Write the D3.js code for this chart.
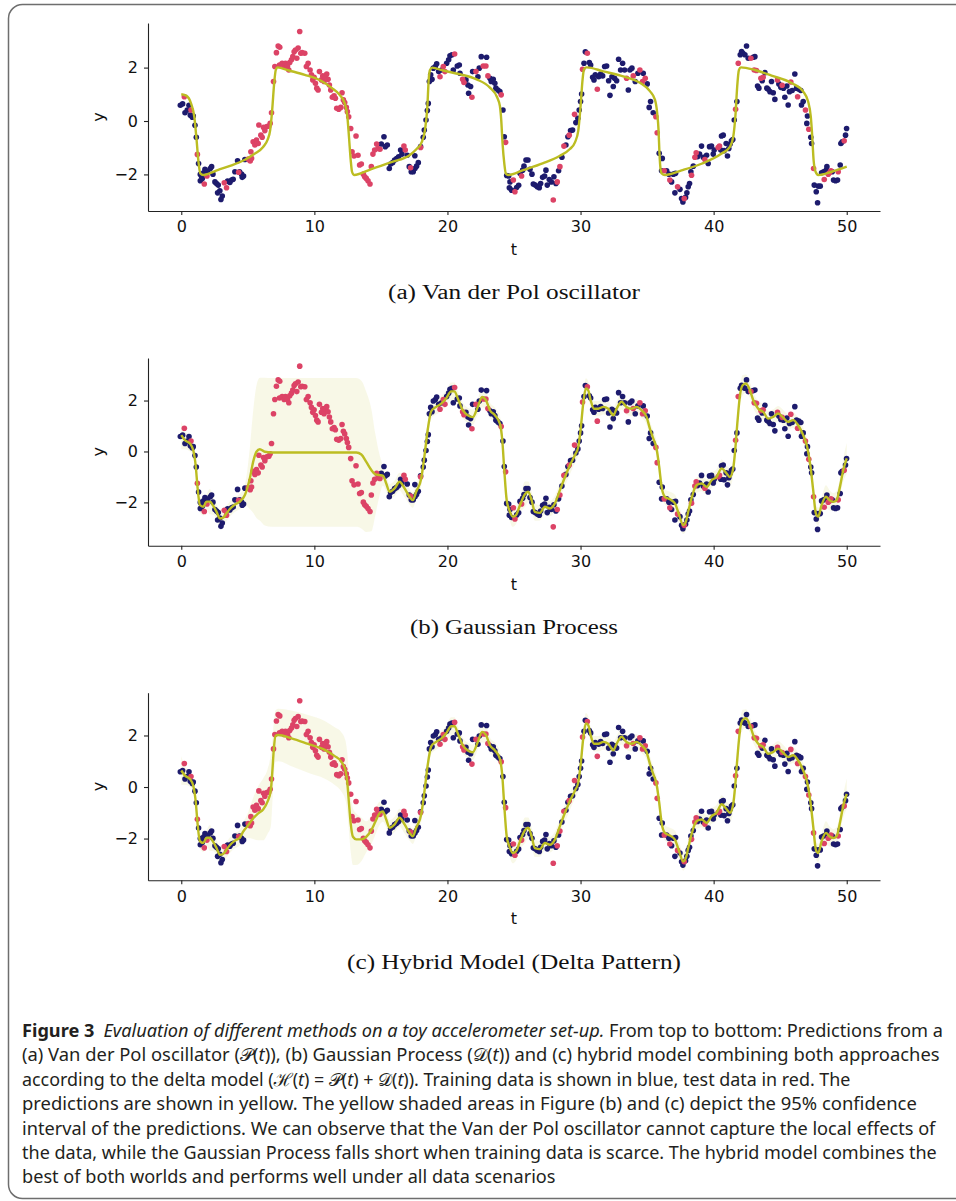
<!DOCTYPE html>
<html><head><meta charset="utf-8">
<script src="https://cdn.jsdelivr.net/npm/d3@7"></script>
<style>body{margin:0;background:#fff}text{white-space:pre}</style>
</head><body>
<svg id="fig" width="956" height="1201"></svg>
<script>
// ---------------- data ----------------
const xTicks = [0, 10, 20, 30, 40, 50];
const yTicks = [-2, 0, 2];

// training data (blue): [t, y]
const trainPts = [[-0.07,0.59],[0.1,0.64],[0.28,0.31],[0.45,0.41],[0.58,0.59],[0.68,0.22],[0.83,0.14],[0.9,0.19],[1.03,-0.16],[1.13,-0.61],[1.3,-1.59],
[1.43,-2.0],[1.53,-2.09],[1.68,-1.94],[1.78,-1.81],[1.98,-1.88],[2.18,-1.78],[2.28,-1.71],[2.38,-1.99],[1.43,-2.24],[1.58,-2.15],[2.53,-2.28],[2.65,-2.34],[2.78,-2.4],[2.73,-2.69],[2.9,-2.61],[2.98,-2.94],[3.08,-2.81],[3.48,-2.25],[3.65,-2.3],[3.78,-2.21],[3.9,-2.18],[4.03,-1.9],[4.23,-1.49],[4.38,-1.9],[4.53,-1.99],[4.68,-2.06],[4.58,-2.11],[4.78,-1.44],
[15.03,-0.86],[15.23,-0.59],[15.33,-0.96],[15.48,-0.9],[15.63,-1.78],[15.73,-1.61],[15.88,-1.56],[16.03,-1.46],[16.18,-1.41],[16.33,-1.34],[16.48,-1.09],[16.58,-1.24],[16.98,-1.28],[17.13,-1.71],[17.28,-1.9],
[17.43,-1.9],[17.56,-1.78],[17.68,-1.69],[17.81,-1.56],[17.55,-1.3],[17.98,-0.96],[18.18,-0.61],[18.26,-0.34],[18.39,0.04],[18.49,0.39],[18.56,0.66],[18.64,1.48],[18.74,1.73],[18.84,1.56],[18.94,1.98],[19.09,2.04],[19.19,2.14],[19.34,1.85],[19.56,1.91],[19.94,2.16],[20.09,2.29],[20.19,2.44],[20.34,2.48],[20.44,1.91],[20.74,2.06],[20.89,2.1],[20.94,1.79],[21.39,1.54],[21.54,1.35],[21.59,1.04],[21.74,1.29],[21.89,1.85],[22.29,1.66],[22.39,1.98],[22.54,2.41],[22.94,2.39],[23.19,1.6],[23.29,1.48],[23.44,1.56],[23.56,1.41],[23.64,1.23],[23.79,1.16],[23.94,1.1],[24.17,0.41],[24.27,-0.59],[24.45,-2.04],[24.6,-2.06],[24.7,-2.28],[24.65,-2.5],[24.82,-2.59],[25.2,-2.49],[25.35,-2.41],[25.45,-1.96],[25.65,-1.84],[25.75,-1.69],[25.9,-1.46],[26.05,-1.46],[26.2,-1.81],[26.35,-1.99],[26.45,-2.36],[26.6,-2.4],[26.75,-2.46],[26.9,-2.5],[27.0,-2.34],[27.15,-2.11],[27.3,-2.06],[27.4,-1.84],[27.5,-2.4],[27.65,-2.19],[27.8,-2.28],[28.0,-2.09],[28.15,-2.34],[28.35,-1.86],[28.6,-1.36],[28.9,-0.9],[29.05,-0.59],[29.25,-0.36],[29.4,-0.34],[29.65,-0.06],[29.8,0.1],[29.9,0.41],[30.0,0.73],[30.08,1.01],[30.26,2.16],[30.36,2.59],[30.66,2.19],[30.76,2.1],[30.91,1.64],[31.01,1.54],[31.11,1.73],[31.36,1.66],[31.51,1.76],[31.66,1.69],[31.81,2.04],[31.96,2.06],[32.11,1.51],[32.21,0.96],[32.36,1.66],[32.46,1.29],[32.56,1.6],[32.71,1.51],[32.86,2.31],[33.01,1.91],[33.16,2.16],[33.31,1.91],[33.59,1.16],[33.71,1.91],[33.86,1.98],[34.11,1.48],[34.31,1.79],[34.71,1.79],[35.01,1.39],[35.16,0.51],[35.26,0.73],[35.46,0.31],[35.91,-1.21],
[36.14,-1.4],[36.09,-1.86],[36.47,-1.86],[36.64,-1.99],[36.84,-2.28],[36.97,-1.99],[37.14,-1.96],[37.09,-2.69],[37.47,-2.56],[37.59,-2.9],[37.69,-3.03],[37.89,-2.86],[37.99,-2.69],[38.09,-2.46],[38.19,-2.34],[38.29,-1.9],[38.47,-1.69],[38.79,-1.34],[38.94,-1.24],[39.09,-0.94],[39.22,-1.36],[39.47,-1.28],[39.59,-1.59],[39.69,-0.96],[39.84,-0.94],[39.97,-1.24],[40.04,-1.09],[40.54,-1.09],[40.59,-0.56],[40.72,-0.53],[40.79,-1.11],[40.94,-0.84],[41.04,-1.31],[41.14,-1.03],[41.24,-0.86],[41.34,-0.74],[41.44,-0.69],[41.55,0.04],[41.75,0.73],[42.0,2.48],[42.1,2.6],[42.2,2.54],[42.35,2.48],[42.47,2.81],[42.6,2.35],[42.97,2.39],[43.1,2.41],[43.3,1.31],[43.4,1.23],[43.65,1.51],[43.85,1.81],[44.0,1.23],[44.1,1.19],[44.23,1.1],[44.35,1.48],[44.48,1.06],[44.6,0.81],[44.9,1.39],[45.05,1.26],[45.25,1.23],[45.35,0.89],[45.5,1.31],[45.6,0.6],[45.7,1.1],[45.9,1.14],[46.1,1.76],[46.23,1.23],[46.4,1.19],[46.55,1.14],[46.6,0.6],[46.73,0.73],[47.05,0.19],[47.0,-0.09],[47.3,-0.61],[47.36,-0.84],[47.56,-2.4],[47.71,-2.65],[47.81,-3.06],[47.86,-2.44],[48.01,-2.44],[48.11,-1.94],[48.26,-1.9],[48.46,-1.84],[48.51,-1.71],[48.91,-1.9],[49.01,-2.21],[49.16,-2.24],[49.31,-2.21],[49.51,-1.65],[49.56,-0.84],[49.66,-0.78],[49.91,-0.53],[49.99,-0.28]];

// test data (red): [t, y]
const testPts = [[0.23,0.91],[0.73,0.41],[1.21,-1.25],[1.73,-2.36],[1.93,-2.06],[3.23,-2.31],[3.4,-2.5],[4.31,-1.92],[5.03,-1.42],[5.1,-1.45],[5.18,-1.5],[5.28,-1.4],[5.23,-1.15],[5.4,-0.78],[5.53,-0.9],[5.65,-0.71],[5.78,-0.84],[5.83,-0.15],[5.98,-0.53],[6.08,-0.61],[6.18,-0.24],[6.28,-0.36],[6.43,-0.21],[6.58,-0.19],[6.68,-0.09],[6.78,0.31],[6.93,1.48],[7.03,2.04],[7.15,2.56],[7.28,2.81],[7.4,2.76],[7.38,2.1],[7.58,2.16],[7.73,2.04],[7.83,2.16],[7.98,2.04],[8.08,1.91],[8.15,2.19],[8.28,2.29],[8.38,2.41],[8.48,2.59],[8.58,2.66],[8.68,2.35],[8.78,2.73],[8.9,3.35],[8.98,2.54],[9.08,2.56],[9.28,2.54],[9.4,2.04],[9.53,2.16],[9.68,1.91],[9.78,1.73],[9.88,1.54],[9.98,1.64],[10.08,1.41],[10.18,1.23],[10.28,1.16],[10.38,1.85],[10.53,1.54],[10.63,1.69],[10.73,1.48],[10.83,1.66],[10.93,1.76],[11.03,1.56],[11.13,1.35],[11.23,1.16],[11.35,0.89],[11.48,0.94],[11.58,0.85],[11.68,0.48],[11.83,0.44],[11.98,0.51],[12.08,1.06],[12.18,0.79],[12.28,0.69],[12.4,0.51],[12.48,0.35],[12.58,0.16],[12.73,-0.28],[12.83,-1.15],[12.98,-1.31],[13.13,-0.56],[13.28,-1.28],[13.4,-1.65],[13.53,-1.61],[13.68,-1.99],[13.78,-2.09],[13.9,-2.15],[14.03,-2.24],[14.18,-2.36],[14.28,-1.71],[14.4,-1.24],[14.53,-1.09],[14.68,-0.86],[14.78,-1.03],[14.93,-1.06],[16.73,-0.94],[16.83,-1.09],[17.23,-1.75],[17.98,-0.99],
[19.44,1.66],[19.69,2.04],[19.81,1.85],[20.54,2.51],[21.14,1.56],[21.24,1.44],[21.84,0.89],[22.14,1.85],[22.69,2.06],[22.89,2.06],[23.04,1.69],[24.04,0.98],[24.37,-0.8],[24.95,-2.21],[25.07,-2.65],[25.57,-2.06],[27.95,-2.96],[28.25,-2.28],[28.45,-1.71],[28.75,-0.94],[29.15,-0.53],[29.55,0.25],[30.15,1.94],[30.51,2.54],[31.26,1.19],[33.46,1.6],[33.96,1.69],[34.46,1.91],[34.66,1.48],[34.86,1.6],[35.66,0.16],[35.76,-0.44],
[36.29,-1.86],[36.71,-2.21],[37.29,-2.46],[37.79,-2.9],[38.34,-2.03],[38.59,-1.36],[38.69,-1.19],[39.34,-1.44],[40.34,-0.99],[40.44,-0.94],[41.65,0.44],[41.85,2.16],[42.8,2.35],[43.05,1.91],[43.22,1.89],[43.55,1.6],[43.72,1.64],[44.8,1.54],[45.15,1.34],[45.8,1.46],[46.31,0.91],[46.9,0.41],[47.15,-0.31],[47.51,-1.78],[48.31,-2.19],[48.61,-1.99],[48.71,-1.94],[48.81,-1.86],[49.36,-1.9],[49.81,-0.74]];

// (a) Van der Pol prediction: [t, y]
const vdpPts = [[0,1.0],[0.4,0.94],[0.73,0.66],[0.98,0.16],[1.15,-0.71],[1.28,-1.46],[1.43,-1.96],[1.65,-2.02],[2.78,-1.83],[3.78,-1.66],[4.78,-1.45],[5.53,-1.22],[6.15,-0.97],[6.48,-0.71],[6.68,-0.34],[6.83,0.41],[6.98,1.41],[7.1,1.91],[7.23,2.01],[8.03,1.9],[9.28,1.73],[10.53,1.5],[11.28,1.25],[11.9,0.98],[12.28,0.66],[12.48,0.16],[12.6,-0.59],[12.73,-1.46],[12.83,-1.9],[12.98,-2.02],[14.28,-1.8],[15.78,-1.54],[17.18,-1.27],[17.68,-1.05],[18.06,-0.8],[18.31,-0.34],[18.49,0.54],[18.59,1.54],[18.69,1.91],[18.85,2.0],[19.69,1.89],[20.94,1.75],[22.19,1.56],[23.19,1.25],[23.74,0.88],[23.94,0.56],[24.04,0.04],[24.14,-0.84],[24.27,-1.59],[24.39,-1.97],[24.57,-2.02],[25.69,-1.84],[27.2,-1.58],[28.45,-1.3],[29.2,-1.05],[29.58,-0.8],[29.83,-0.36],[30.0,0.54],[30.15,1.54],[30.26,1.94],[30.46,2.01],[31.71,1.86],[33.21,1.67],[34.46,1.43],[35.21,1.12],[35.59,0.8],[35.76,0.29],[35.86,-0.34],[35.93,-1.21],[36.0,-1.75],[36.09,-1.96],[36.34,-2.02],[37.59,-1.85],[39.09,-1.6],[40.6,-1.22],[41.22,-0.97],[41.47,-0.6],[41.65,0.29],[41.77,1.29],[41.9,1.91],[42.05,2.01],[43.1,1.91],[44.35,1.7],[45.85,1.42],[46.73,1.1],[47.1,0.73],[47.3,0.16],[47.41,-0.59],[47.51,-1.46],[47.66,-1.9],[47.86,-2.02],[48.86,-1.9],[50.0,-1.71]];

// (b) Gaussian Process: [t, mean, half-width of 95% interval]
const gpKnots = [[0,0.64,0.55],[0.28,0.44,0.35],[0.65,0.31,0.3],[0.9,0.05,0.25],[1.08,-0.54,0.25],[1.23,-1.45,0.25],[1.4,-2.1,0.3],[1.65,-2.17,0.35],[1.9,-1.97,0.3],[2.15,-1.97,0.5],[2.4,-2.13,0.35],[2.65,-2.37,0.3],[2.9,-2.63,0.35],[3.15,-2.6,0.35],[3.4,-2.43,0.3],[3.65,-2.26,0.3],[4.03,-2.08,0.3],[4.4,-1.97,0.3],[4.78,-1.71,0.4],[5.15,-1.06,1.2],[5.4,-0.41,2.0],[5.65,-0.01,2.6],[5.9,0.09,2.8],[6.28,-0.01,2.9],[6.78,-0.04,2.92],[8.78,-0.04,2.92],[11.28,-0.04,2.92],[13.15,-0.04,2.92],[13.53,-0.12,2.9],[13.9,-0.41,2.75],[14.28,-0.73,2.4],[14.58,-0.9,1.6],[14.9,-0.93,0.8],[15.15,-0.95,0.4],[15.4,-1.26,0.3],[15.65,-1.58,0.3],[16.03,-1.45,0.3],[16.4,-1.19,0.35],[16.78,-1.45,0.35],[17.15,-1.78,0.3],[17.4,-1.91,0.3],[17.65,-1.58,0.3],[18.03,-1.06,0.3],[18.28,-0.14,0.3],[18.53,0.9,0.3],[18.78,1.58,0.3],[19.15,1.75,0.3],[19.53,1.88,0.3],[19.9,2.08,0.3],[20.28,2.36,0.35],[20.53,2.36,0.35],[20.78,2.08,0.3],[21.15,1.62,0.3],[21.53,1.42,0.3],[21.9,1.35,0.3],[22.28,1.75,0.3],[22.6,2.14,0.4],[22.9,2.01,0.35],[23.19,1.62,0.3],[23.57,1.42,0.3],[23.94,1.09,0.3],[24.12,0.44,0.3],[24.27,-0.73,0.3],[24.45,-1.91,0.3],[24.65,-2.3,0.35],[24.9,-2.56,0.4],[25.15,-2.5,0.35],[25.45,-2.11,0.3],[25.82,-1.68,0.5],[26.07,-1.58,0.4],[26.32,-1.91,0.35],[26.57,-2.37,0.35],[26.95,-2.41,0.3],[27.32,-2.17,0.3],[27.7,-2.24,0.3],[28.07,-2.04,0.3],[28.45,-1.52,0.3],[28.83,-1.0,0.35],[29.2,-0.54,0.35],[29.58,-0.14,0.3],[29.83,0.18,0.3],[30.0,0.83,0.3],[30.2,1.88,0.35],[30.4,2.47,0.4],[30.58,2.4,0.35],[30.76,2.01,0.3],[31.01,1.68,0.3],[31.33,1.68,0.3],[31.71,1.75,0.3],[32.08,1.68,0.3],[32.46,1.42,0.3],[32.71,1.68,0.3],[33.08,1.95,0.3],[33.45,1.75,0.3],[33.83,1.68,0.3],[34.21,1.75,0.3],[34.58,1.62,0.3],[34.96,1.36,0.3],[35.21,0.9,0.3],[35.46,0.51,0.3],[35.71,0.12,0.3],[35.91,-0.6,0.3],[36.09,-1.39,0.3],[36.34,-1.78,0.3],[36.71,-1.88,0.3],[37.09,-2.04,0.35],[37.41,-2.5,0.35],[37.71,-2.89,0.35],[37.91,-2.76,0.35],[38.09,-2.37,0.3],[38.34,-1.84,0.3],[38.72,-1.32,0.3],[39.1,-1.26,0.3],[39.47,-1.39,0.3],[39.85,-1.13,0.3],[40.22,-1.0,0.3],[40.6,-0.67,0.35],[40.97,-0.86,0.3],[41.22,-1.0,0.35],[41.47,-0.67,0.3],[41.62,0.05,0.3],[41.8,1.23,0.3],[41.98,2.21,0.3],[42.18,2.6,0.4],[42.43,2.67,0.35],[42.73,2.4,0.3],[42.98,2.01,0.3],[43.35,1.68,0.3],[43.73,1.55,0.3],[44.1,1.29,0.3],[44.48,1.36,0.3],[44.85,1.49,0.3],[45.23,1.33,0.3],[45.6,1.16,0.3],[45.98,1.23,0.3],[46.35,1.03,0.3],[46.73,0.64,0.3],[47.03,0.18,0.3],[47.28,-0.6,0.3],[47.48,-1.52,0.3],[47.68,-2.43,0.35],[47.86,-2.56,0.35],[48.11,-2.11,0.3],[48.44,-1.78,0.45],[48.69,-1.91,0.4],[48.99,-1.98,0.35],[49.24,-1.91,0.35],[49.49,-1.39,0.35],[49.74,-0.73,0.45],[50.0,-0.27,0.6]];

// (c) Hybrid model where it differs from the GP (data gap 4.4 - 15): [t, mean, half-width]
const hybridGapKnots = [[4.4,-1.97,0.3],[4.65,-1.73,0.35],[5.03,-1.48,0.5],[5.4,-1.22,0.8],[5.78,-1.02,1.05],[6.15,-0.87,1.2],[6.48,-0.57,1.25],[6.73,-0.12,1.4],[6.85,0.66,1.2],[6.95,1.44,1.05],[7.08,1.98,1.0],[7.28,2.02,1.02],[8.28,1.89,1.08],[9.53,1.67,1.12],[10.78,1.44,1.12],[11.53,1.2,1.12],[12.03,0.98,1.15],[12.33,0.66,1.15],[12.48,0.14,1.15],[12.6,-0.63,1.1],[12.73,-1.41,1.1],[12.9,-1.93,1.1],[13.15,-2.03,1.0],[13.53,-2.03,0.85],[13.9,-1.93,0.6],[14.28,-1.67,0.55],[14.58,-1.35,0.5],[14.9,-1.02,0.45]];

const panelTitles = ["(a) Van der Pol oscillator", "(b) Gaussian Process", "(c) Hybrid Model (Delta Pattern)"];

const P = "\u{1D4AB}", D = "\u{1D49F}", H = "\u210B";
const captionLines = [
  [["Figure 3","b"],["\u2002",""],["Evaluation of different methods on a toy accelerometer set-up.","i"],[" From top to bottom: Predictions from a",""]],
  [["(a) Van der Pol oscillator ("+P+"(",""],["t","i"],[")), (b) Gaussian Process ("+D+"(",""],["t","i"],[")) and (c) hybrid model combining both approaches",""]],
  [["according to the delta model ("+H+"(",""],["t","i"],[") = "+P+"(",""],["t","i"],[") + "+D+"(",""],["t","i"],[")). Training data is shown in blue, test data in red. The",""]],
  [["predictions are shown in yellow. The yellow shaded areas in Figure (b) and (c) depict the 95% confidence",""]],
  [["interval of the predictions. We can observe that the Van der Pol oscillator cannot capture the local effects of",""]],
  [["the data, while the Gaussian Process falls short when training data is scarce. The hybrid model combines the",""]],
  [["best of both worlds and performs well under all data scenarios",""]]
];

// ---------------- drawing ----------------
const svg = d3.select("#fig");
const BLUE = "#1d1b6d", RED = "#dc4366", OLIVE = "#bcbd22";

svg.append("rect").attr("x", 8.5).attr("y", 4.5).attr("width", 1000).attr("height", 1194)
  .attr("rx", 14).attr("fill", "none").attr("stroke", "#6e6e6e").attr("stroke-width", 1.5);

const x = d3.scaleLinear().domain([-2.5, 52.5]).range([148, 880]);

const hybridKnots = gpKnots.filter(d => d[0] < 4.4)
  .concat(hybridGapKnots, gpKnots.filter(d => d[0] > 15.0));

const panels = [
  {top: 23, bottom: 211, yDom: [-3.37, 3.67], line: vdpPts, band: null, titleY: 299, titleW: 252},
  {top: 358, bottom: 545.7, yDom: [-3.7, 3.67], line: gpKnots, band: gpKnots, titleY: 634, titleW: 208},
  {top: 692.7, bottom: 880.3, yDom: [-3.62, 3.66], line: hybridKnots, band: hybridKnots, titleY: 969, titleW: 334}
];

const AX_FONT = "DejaVu Sans";
panels.forEach((p, i) => {
  const y = d3.scaleLinear().domain(p.yDom).range([p.bottom, p.top]);
  const g = svg.append("g");

  if (p.band) {
    g.append("path").datum(p.band)
      .attr("d", d3.area().x(d => x(d[0])).y0(d => y(d[1] - d[2])).y1(d => y(d[1] + d[2])).curve(d3.curveMonotoneX))
      .attr("fill", OLIVE).attr("fill-opacity", 0.11);
  }
  g.append("g").selectAll("circle").data(trainPts).join("circle")
    .attr("cx", d => x(d[0])).attr("cy", d => y(d[1])).attr("r", 2.8).attr("fill", BLUE);
  g.append("g").selectAll("circle").data(testPts).join("circle")
    .attr("cx", d => x(d[0])).attr("cy", d => y(d[1])).attr("r", 2.8).attr("fill", RED);
  g.append("path").datum(p.line)
    .attr("d", d3.line().x(d => x(d[0])).y(d => y(d[1])).curve(d3.curveMonotoneX))
    .attr("fill", "none").attr("stroke", OLIVE).attr("stroke-width", 2.4);

  const xa = g.append("g").attr("transform", `translate(0,${p.bottom})`)
    .call(d3.axisBottom(x).tickValues(xTicks).tickSize(4).tickPadding(6).tickSizeOuter(0));
  const ya = g.append("g").attr("transform", `translate(148,0)`)
    .call(d3.axisLeft(y).tickValues(yTicks).tickFormat(d3.format("d")).tickSize(4).tickPadding(6).tickSizeOuter(0));
  [xa, ya].forEach(a => {
    a.selectAll("text").attr("font-family", AX_FONT).attr("font-size", 16).attr("fill", "#111");
    a.selectAll("line").attr("stroke", "#222").attr("stroke-width", 1.1);
    a.select(".domain").attr("stroke", "#222").attr("stroke-width", 1.1);
  });

  g.append("text").attr("x", 514).attr("y", p.bottom + 44).attr("text-anchor", "middle")
    .attr("font-family", AX_FONT).attr("font-size", 16).attr("fill", "#111").text("t");
  g.append("text").attr("transform", `translate(104,${(p.top + p.bottom) / 2}) rotate(-90)`)
    .attr("text-anchor", "middle").attr("font-family", AX_FONT).attr("font-size", 16).attr("fill", "#111").text("y");

  g.append("text").attr("x", 514 - p.titleW / 2).attr("y", p.titleY)
    .attr("font-family", "Liberation Serif, DejaVu Serif, serif").attr("font-size", 20).attr("fill", "#111")
    .attr("textLength", p.titleW).attr("lengthAdjust", "spacingAndGlyphs").text(panelTitles[i]);
});

const capWidths = [921, 918, 829, 895, 914, 915, 534];
captionLines.forEach((segs, k) => {
  const t = svg.append("text").attr("font-family", "'Noto Sans', 'DejaVu Sans', sans-serif")
    .attr("font-size", 18).attr("fill", "#231f20");
  segs.forEach(([s, st]) => {
    const ts = t.append("tspan").text(s);
    if (st === "b") ts.attr("font-weight", "bold");
    if (st === "i") ts.attr("font-style", "italic");
  });
  const w = t.node().getComputedTextLength();
  t.attr("transform", `translate(22,${1037 + k * 24.4}) scale(${capWidths[k] / w},1)`);
});
</script>
</body></html>
